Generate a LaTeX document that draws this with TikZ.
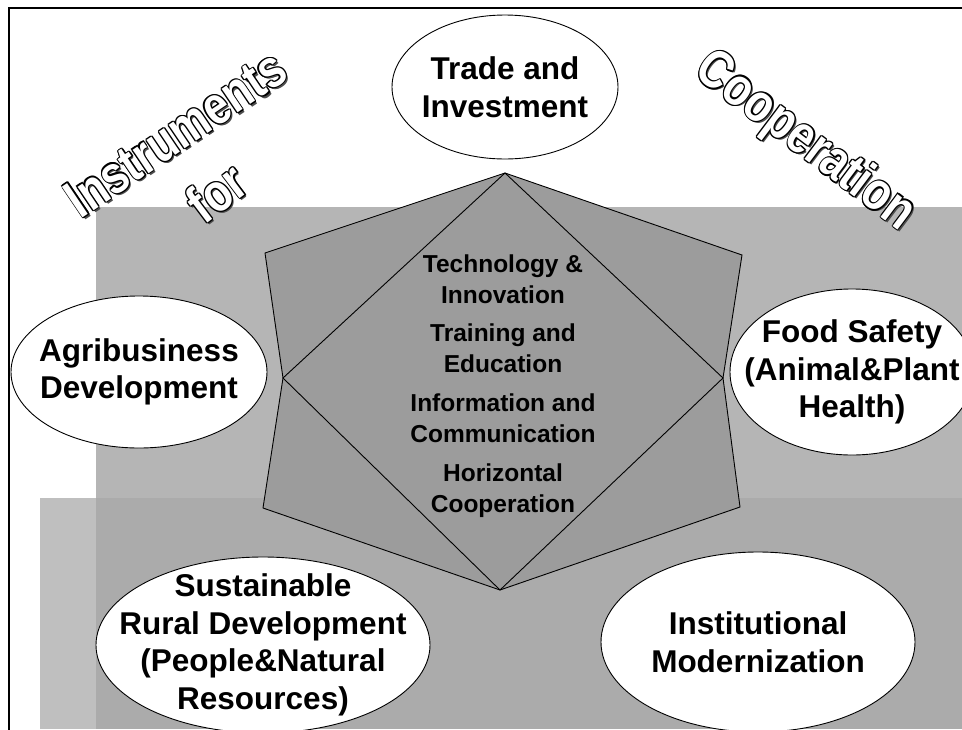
\documentclass[tikz,border=0pt]{standalone}
\usepackage{fontspec}
\setmainfont{Liberation Sans}
\usetikzlibrary{shapes.geometric}
\definecolor{bandgray}{gray}{0.71}
\definecolor{stripgray}{gray}{0.75}
\definecolor{lowgray}{gray}{0.67}
\definecolor{stargray}{gray}{0.61}
\newcommand\wcopy[3]{\rlap{\hspace*{#1}\raisebox{#2}{#3}}}
\newcommand\wordart[3]{%
  {\color{black!70}%
   \wcopy{\dimexpr#1pt\relax}{\dimexpr#2pt\relax}{#3}%
   \wcopy{\dimexpr#1pt*2/3\relax}{\dimexpr#2pt*2/3\relax}{#3}%
   \wcopy{\dimexpr#1pt/3\relax}{\dimexpr#2pt/3\relax}{#3}}%
  {\color{black}%
   \wcopy{1.2pt}{0pt}{#3}\wcopy{-1.2pt}{0pt}{#3}%
   \wcopy{0pt}{1.2pt}{#3}\wcopy{0pt}{-1.2pt}{#3}%
   \wcopy{0.85pt}{0.85pt}{#3}\wcopy{-0.85pt}{0.85pt}{#3}%
   \wcopy{0.85pt}{-0.85pt}{#3}\wcopy{-0.85pt}{-0.85pt}{#3}}%
  {\color{white}#3}}
\begin{document}
\begin{tikzpicture}[x=1pt,y=-1pt,
  bubble/.style={ellipse, draw=black, line width=0.9pt, fill=white, inner sep=-40pt,
    align=center, font=\fontsize{31.5}{37.5}\selectfont\bfseries},
  innerlist/.style={align=center, inner sep=0pt, font=\fontsize{24.5}{30.5}\selectfont\bfseries},
  art/.style={font=\fontsize{48}{48}\selectfont\bfseries, inner sep=0pt},
  staredge/.style={draw=black, line width=0.9pt}]
\useasboundingbox (0,0) rectangle (962,729);
\clip (0,0) rectangle (962,729);
\fill[white] (0,0) rectangle (962,729);
% shaded background bands
\fill[bandgray] (96,207) rectangle (962,729);
\fill[stripgray] (40,498) rectangle (96,729);
\fill[lowgray] (96,498) rectangle (962,729);
% frame
\draw[line width=1.5pt] (9,745) -- (9,8) -- (975,8);
% star
\coordinate (T) at (505,173);
\coordinate (UR) at (742,255);
\coordinate (R) at (723,378);
\coordinate (LR) at (740,507);
\coordinate (B) at (500,590);
\coordinate (LL) at (263,508);
\coordinate (L) at (283,378);
\coordinate (UL) at (265,253);
\fill[stargray] (T) -- (UR) -- (R) -- (LR) -- (B) -- (LL) -- (L) -- (UL) -- cycle;
\draw[staredge] (T) -- (UR) -- (R) -- (LR) -- (B) -- (LL) -- (L) -- (UL) -- cycle;
\draw[staredge] (T) -- (R) -- (B) -- (L) -- cycle;
% central list
\node[innerlist] (tools) at (503,386) {Technology \&\\Innovation\\[8pt]Training and\\Education\\[9pt]Information and\\Communication\\[9pt]Horizontal\\Cooperation};
% ellipses
\node[bubble, minimum width=226pt, minimum height=144pt] (trade) at (505,87) {Trade and\\Investment};
\node[bubble, minimum width=256pt, minimum height=152pt] (agri) at (139,372) {Agribusiness\\Development};
\node[bubble, minimum width=244pt, minimum height=166pt] (food) at (852,372) {Food Safety\\(Animal\&Plant\\Health)};
\node[bubble, minimum width=334pt, minimum height=176pt] (sust) at (263,645) {Sustainable\\Rural Development\\(People\&Natural\\Resources)};
\node[bubble, minimum width=314pt, minimum height=180pt] (inst) at (758,642) {Institutional\\Modernization};
% word art titles
\node[art, rotate=34] (instr) at (176,134) {\scalebox{0.92}[1.12]{\wordart{0.5}{-2.8}{Instruments}}};
\node[art, rotate=37] (for) at (217,193) {\scalebox{0.92}[1.12]{\wordart{0.4}{-2.8}{for}}};
\node[art, rotate=-37] (coop) at (805,142) {\scalebox{0.92}[1.12]{\wordart{2.8}{-0.44}{Cooperation}}};
\end{tikzpicture}
\end{document}
